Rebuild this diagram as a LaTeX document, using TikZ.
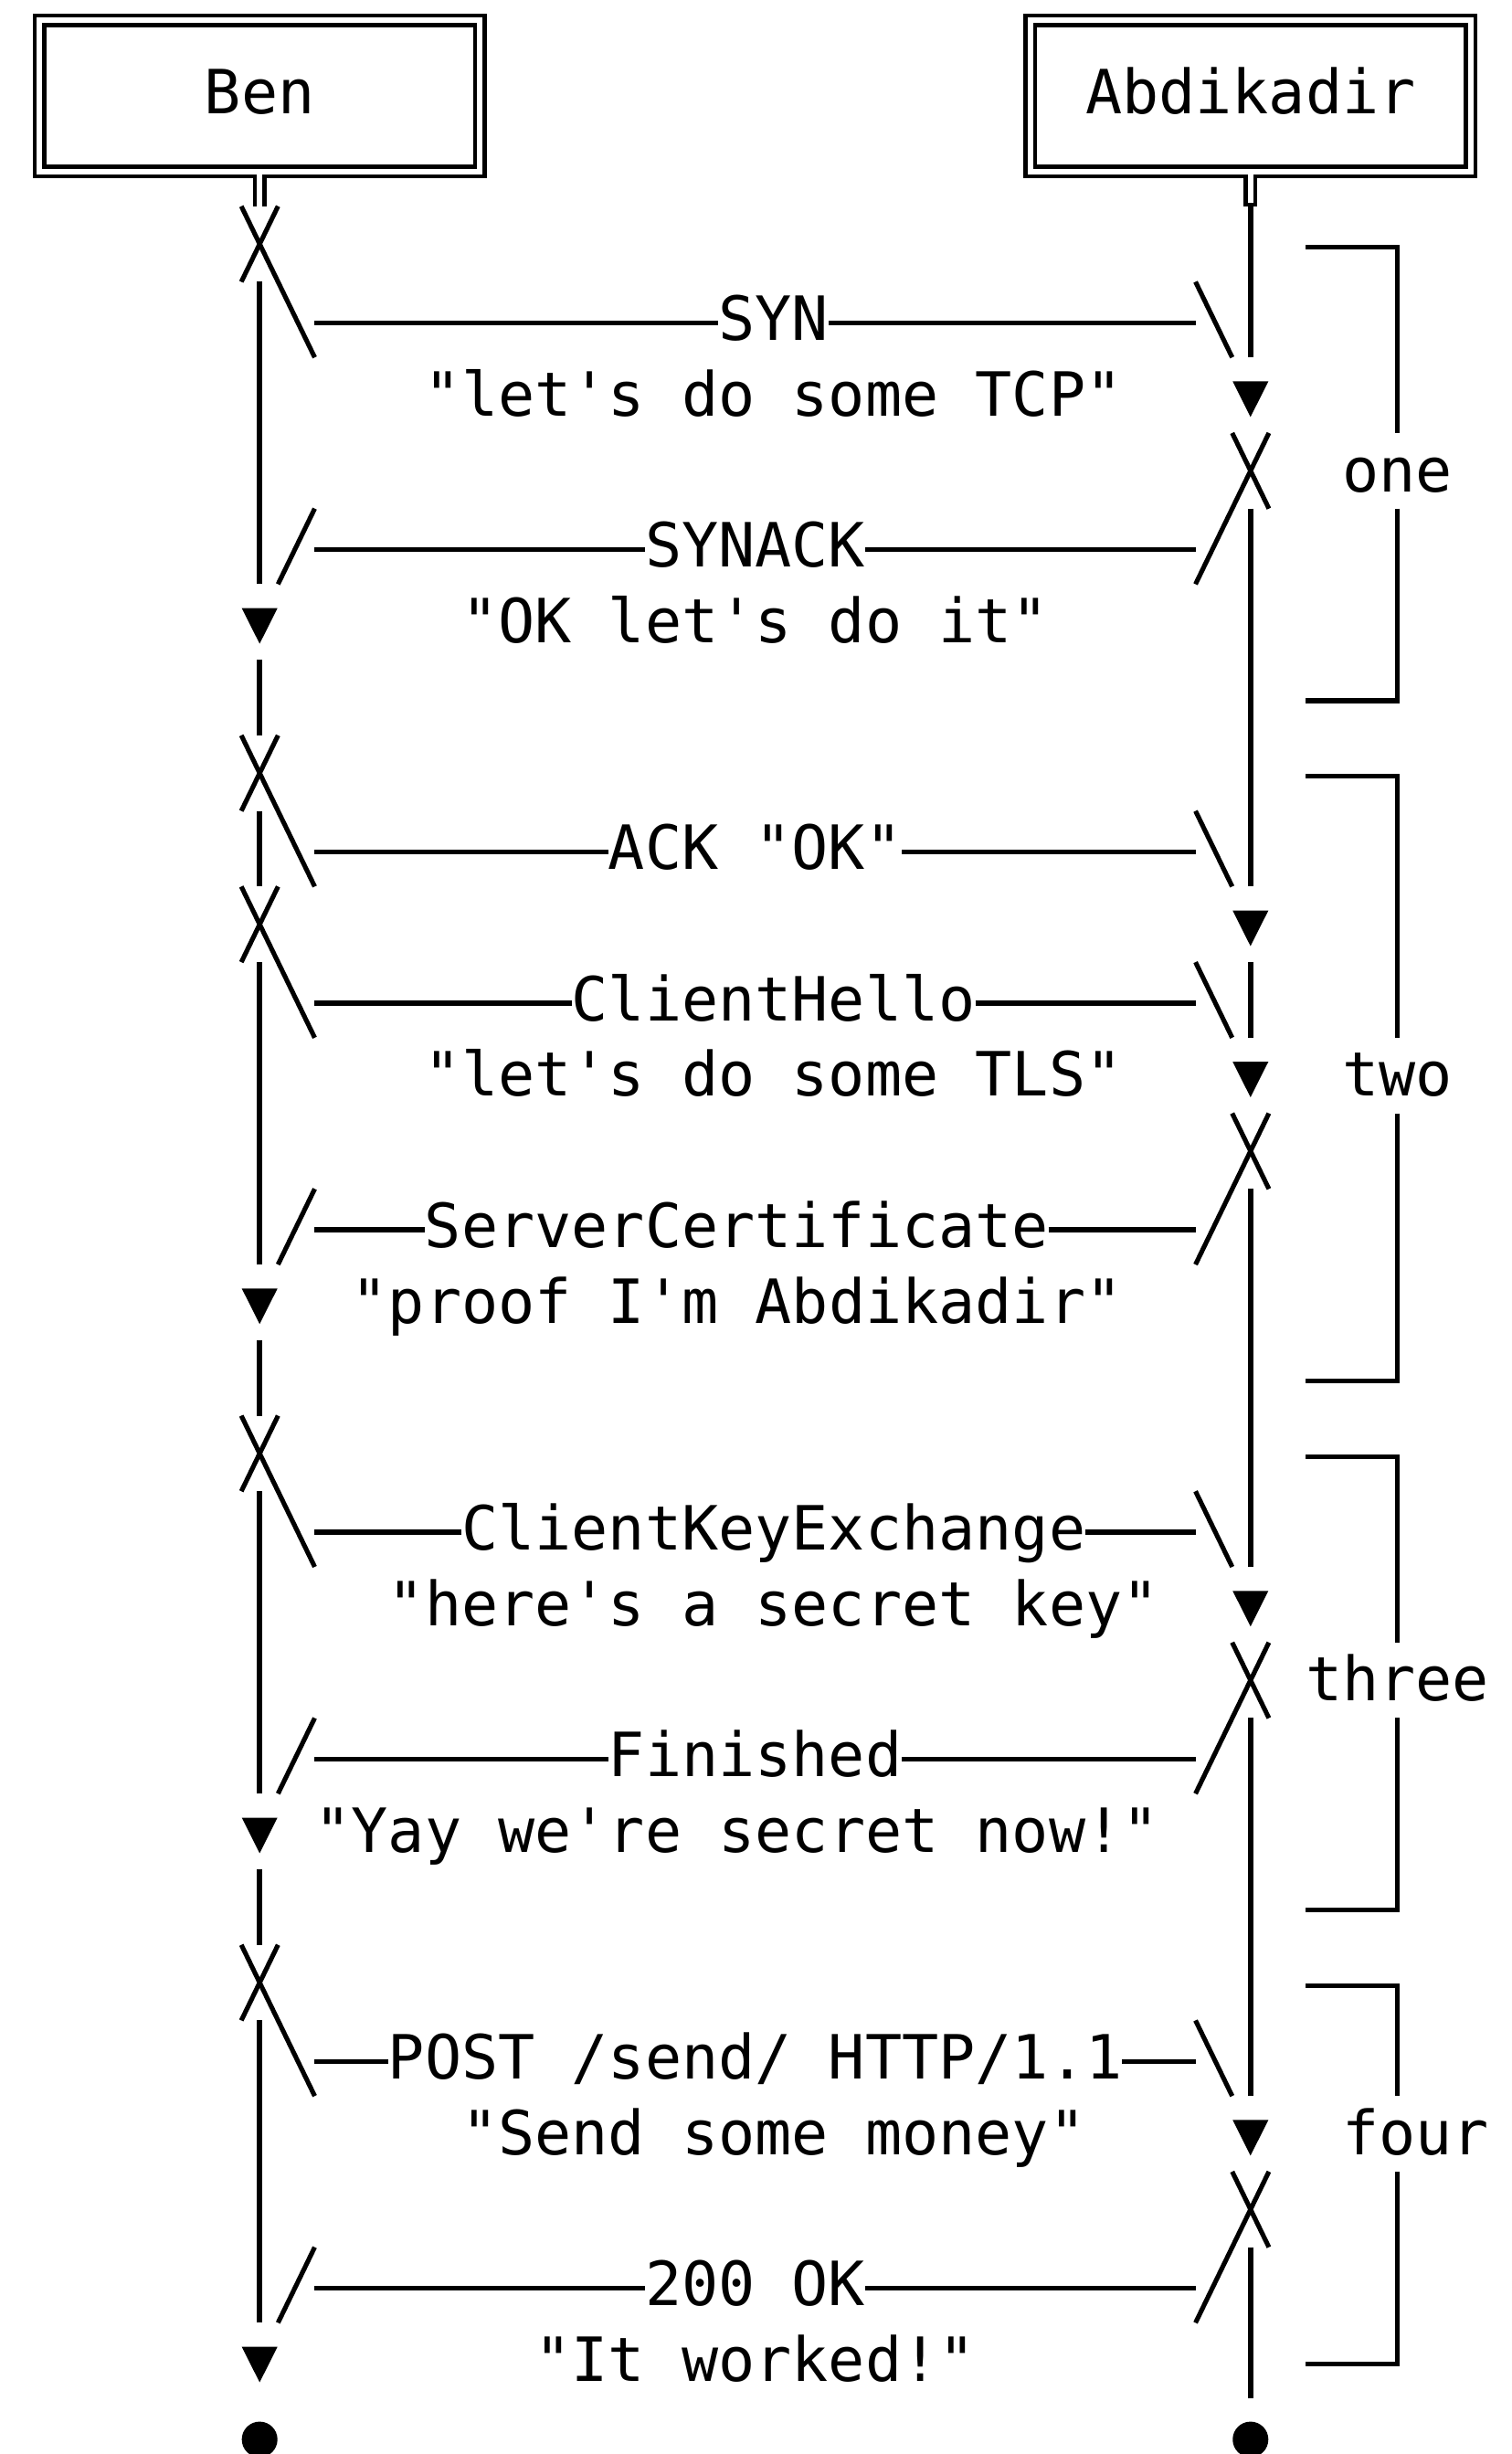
\documentclass[tikz,border=0pt]{standalone}
\usepackage{fontspec}
\setmonofont{DejaVu Sans Mono}
\begin{document}
\begin{tikzpicture}[x=0.01cm,y=-0.01cm,
  declare function={cx(\x)=25.2+23.45*\x; cl(\x)=13.5+23.45*\x; ry(\x)=11+48.3*\x; rt(\x)=11+48.3*\x-24.15; rb(\x)=11+48.3*\x+24.15;},
  txt/.style={font=\ttfamily\fontsize{11.08pt}{13pt}\selectfont, inner sep=0pt, outer sep=0pt, anchor=base west},
  msg/.style={line width=0.88pt},
  life/.style={line width=1.02pt},
  dbl/.style={line width=0.77pt},
  diag/.style={line width=0.85pt},
  brk/.style={line width=0.88pt},
  tri/.style={fill=black}]
\useasboundingbox (0,0) rectangle (966,1568);

% ---- participant boxes ----
% Ben
\draw[dbl] (162.8,131.75) -- (162.8,112.55) -- (22.15,112.55) -- (22.15,9.85) -- (309.65,9.85) -- (309.65,112.55) -- (169.0,112.55) -- (169.0,131.75);
\draw[dbl] (28.25,15.95) rectangle (303.55,106.45);
\node[txt] (ben) at ({cl(5)},{ry(1)+13.3}) {Ben};
% Abdikadir
\draw[dbl] (795.95,112.55) -- (655.3,112.55) -- (655.3,9.85) -- (942.8,9.85) -- (942.8,112.55) -- (802.15,112.55) -- (802.15,130.8) -- (795.95,130.8) -- cycle;
\draw[dbl] (661.4,15.95) rectangle (936.7,106.45);
\node[txt] (abdi) at ({cl(29)},{ry(1)+13.3}) {Abdikadir};

% ---- lifelines ----
\foreach \aa/\bb in {4/7,9/9,11/11,13/16,18/18,20/23,25/25,27/30}
  \draw[life] ({cx(6)},{rt(\aa)}) -- ({cx(6)},{rb(\bb)});
\draw[life] ({cx(33)},130.8) -- ({cx(33)},{rb(4)});
\foreach \aa/\bb in {7/11,13/13,16/20,23/27,30/31}
  \draw[life] ({cx(33)},{rt(\aa)}) -- ({cx(33)},{rb(\bb)});

% ---- arrow heads ----
\foreach \rr in {8,17,24,31}
  \fill[tri] ({cx(6)-11.4},{ry(\rr)-8.8}) -- ({cx(6)+11.4},{ry(\rr)-8.8}) -- ({cx(6)},{ry(\rr)+13.9}) -- cycle;
\foreach \rr in {5,12,14,21,28}
  \fill[tri] ({cx(33)-11.4},{ry(\rr)-8.8}) -- ({cx(33)+11.4},{ry(\rr)-8.8}) -- ({cx(33)},{ry(\rr)+13.9}) -- cycle;

% ---- crossings at Ben (sends) ----
\foreach \rr in {3,10,12,19,26} {
  \draw[diag] ({cl(6)},{rt(\rr)}) -- ({cl(8)},{rb(\rr+1)});
  \draw[diag] ({cl(6)},{rb(\rr)}) -- ({cl(7)},{rt(\rr)});
}
% ---- crossings at Abdikadir (replies) ----
\foreach \rr in {6,15,22,29} {
  \draw[diag] ({cl(34)},{rt(\rr)}) -- ({cl(32)},{rb(\rr+1)});
  \draw[diag] ({cl(33)},{rt(\rr)}) -- ({cl(34)},{rb(\rr)});
}
% right ends of requests
\foreach \rr in {4,11,13,20,27}
  \draw[diag] ({cl(32)},{rt(\rr)}) -- ({cl(33)},{rb(\rr)});
% left ends of replies
\foreach \rr in {7,16,23,30}
  \draw[diag] ({cl(8)},{rt(\rr)}) -- ({cl(7)},{rb(\rr)});

% ---- message lines with labels ----
\foreach \rr/\sc/\ln/\tx in {4/19/3/{SYN}, 7/17/6/{SYNACK}, 11/16/8/{ACK "OK"},
    13/15/11/{ClientHello}, 16/11/17/{ServerCertificate}, 20/12/17/{ClientKeyExchange},
    23/16/8/{Finished}, 27/10/20/{POST /send/ HTTP/1.1}, 30/17/6/{200 OK}} {
  \node[txt] (m\rr) at ({cl(\sc)},{ry(\rr)+13.3}) {\tx};
  \draw[msg] ({cl(8)},{ry(\rr)+2}) -- ({cl(\sc)},{ry(\rr)+2});
  \draw[msg] ({cl(\sc+\ln)},{ry(\rr)+2}) -- ({cl(32)},{ry(\rr)+2});
}
% ---- second line texts ----
\node[txt] (d5)  at ({cl(11)},{ry(5)+13.3})  {"let's do some TCP"};
\node[txt] (d8)  at ({cl(12)},{ry(8)+13.3})  {"OK let's do it"};
\node[txt] (d14) at ({cl(11)},{ry(14)+13.3}) {"let's do some TLS"};
\node[txt] (d17) at ({cl(9)},{ry(17)+13.3})  {"proof I'm Abdikadir"};
\node[txt] (d21) at ({cl(10)},{ry(21)+13.3}) {"here's a secret key"};
\node[txt] (d24) at ({cl(8)},{ry(24)+13.3})  {"Yay we're secret now!"};
\node[txt] (d28) at ({cl(12)},{ry(28)+13.3}) {"Send some money"};
\node[txt] (d31) at ({cl(14)},{ry(31)+13.3}) {"It worked!"};

% ---- phase brackets ----
\foreach \ta/\tb/\tm/\sc/\lab in {3/9/6/36/one, 10/18/14/36/two, 19/25/22/35/three, 26/31/28/36/four} {
  \draw[brk] ({cl(35)},{ry(\ta)+2}) -- ({cx(37)},{ry(\ta)+2}) -- ({cx(37)},{rt(\tm)});
  \draw[brk] ({cx(37)},{rb(\tm)}) -- ({cx(37)},{ry(\tb)+2}) -- ({cl(35)},{ry(\tb)+2});
  \node[txt] (p\tm) at ({cl(\sc)},{ry(\tm)+13.3}) {\lab};
}

% ---- end dots ----
\fill ({cx(6)},1558.7) circle (11.4);
\fill ({cx(33)},1558.7) circle (11.4);
\end{tikzpicture}
\end{document}
